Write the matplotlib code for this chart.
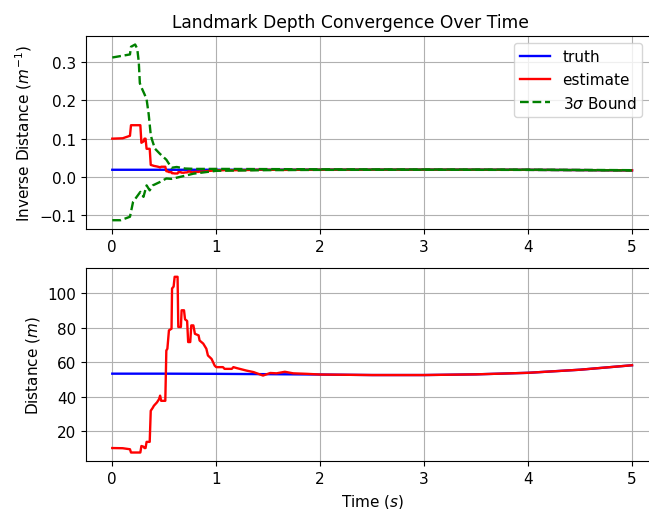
import numpy as np
import matplotlib
matplotlib.use("Agg")
import matplotlib.pyplot as plt

plt.rcParams['font.size'] = 11

# Truth distance (m)
t_truth = [0.0, 0.5, 1.0, 1.5, 2.0, 2.5, 3.0, 3.5, 4.0, 4.5, 5.0]
d_truth = [53.3, 53.3, 53.2, 53.0, 52.8, 52.5, 52.5, 52.9, 53.8, 55.6, 58.2]

# Estimated distance (m)
t_est = [0.00, 0.10, 0.17, 0.18, 0.27, 0.28, 0.30, 0.31, 0.32, 0.33, 0.36, 0.37,
         0.39, 0.40, 0.43, 0.45, 0.46, 0.47, 0.51, 0.52, 0.53, 0.545, 0.57, 0.575,
         0.59, 0.60, 0.628, 0.635, 0.66, 0.667, 0.69, 0.70, 0.72, 0.73, 0.75, 0.76,
         0.78, 0.795, 0.83, 0.84, 0.875, 0.905, 0.92, 0.955, 0.985, 1.00, 1.065,
         1.08, 1.15, 1.165, 1.20, 1.29, 1.36, 1.45, 1.52, 1.58, 1.66, 1.74, 1.87,
         2.00, 2.5, 3.0, 3.5, 4.0, 4.5, 5.0]
d_est = [10.0, 9.9, 9.3, 7.4, 7.4, 11.2, 10.8, 10.0, 10.0, 13.6, 13.6, 31.7,
         33.5, 34.6, 36.6, 38.5, 40.5, 37.5, 37.5, 66.8, 67.8, 78.5, 79.5, 102.9,
         104.0, 109.7, 109.7, 80.5, 80.5, 90.2, 90.2, 84.9, 84.0, 71.7, 71.7, 81.4,
         81.4, 76.5, 75.6, 72.6, 70.8, 67.8, 63.9, 61.9, 58.0, 57.1, 57.1,
         56.1, 56.1, 57.1, 56.5, 55.1, 54.2, 52.2, 53.7, 53.5, 54.4, 53.5, 53.2,
         52.8, 52.5, 52.5, 52.9, 53.8, 55.6, 58.2]

# 3-sigma bounds on inverse distance (1/m)
t_upper = [0.00, 0.17, 0.18, 0.22, 0.24, 0.255, 0.265, 0.28, 0.30, 0.31, 0.33,
           0.35, 0.37, 0.38, 0.41, 0.46, 0.52, 0.57, 0.62, 0.70, 0.80, 1.00,
           2.00, 3.00, 4.00, 5.00]
v_upper = [0.312, 0.320, 0.340, 0.346, 0.335, 0.300, 0.245, 0.234, 0.222, 0.216,
           0.203, 0.164, 0.110, 0.099, 0.074, 0.060, 0.045, 0.024, 0.026, 0.022,
           0.021, 0.021, 0.0200, 0.0196, 0.0191, 0.0177]
t_lower = [0.00, 0.08, 0.17, 0.20, 0.27, 0.30, 0.33, 0.36, 0.39, 0.46, 0.52,
           0.57, 0.65, 0.78, 0.91, 1.00, 1.50, 2.00, 3.00, 4.00, 5.00]
v_lower = [-0.113, -0.113, -0.104, -0.065, -0.039, -0.052, -0.022, -0.035,
           -0.022, -0.013, -0.004, -0.005, 0.000, 0.0085, 0.013, 0.016, 0.0178,
           0.0185, 0.0188, 0.0184, 0.0170]

inv_truth = 1.0 / np.array(d_truth)
inv_est = 1.0 / np.array(d_est)

fig = plt.figure(figsize=(6.49, 5.10), dpi=100)
W, H = 649.0, 510.0
left = 86.3 / W
width = (658.0 - 86.3) / W
ax1 = fig.add_axes([left, 1 - 230.0 / H, width, (230.0 - 36.7) / H])
ax2 = fig.add_axes([left, 1 - 462.3 / H, width, (462.3 - 269.0) / H])

lw = 1.7
ax1.plot(t_truth, inv_truth, color='b', lw=lw, label='truth')
ax1.plot(t_est, inv_est, color='r', lw=lw, label='estimate')
ax1.plot(t_upper, v_upper, color='g', ls='--', lw=lw, label=r'3$\sigma$ Bound')
ax1.plot(t_lower, v_lower, color='g', ls='--', lw=lw)
ax1.set_title('Landmark Depth Convergence Over Time', fontsize=12.3,
              x=(350.5 - 86.3) / (658.0 - 86.3))
ax1.set_ylabel(r'Inverse Distance ($m^{-1}$)')
ax1.set_xticks([0, 1, 2, 3, 4, 5])
ax1.set_yticks([-0.1, 0.0, 0.1, 0.2, 0.3])
ax1.grid(True)
ax1.legend(loc='upper right', bbox_to_anchor=(0.986, 1.0))

ax2.plot(t_truth, d_truth, color='b', lw=lw)
ax2.plot(t_est, d_est, color='r', lw=lw)
ax2.set_ylabel(r'Distance ($m$)')
ax2.set_xlabel(r'Time ($s$)')
ax2.set_xticks([0, 1, 2, 3, 4, 5])
ax2.set_yticks([20, 40, 60, 80, 100])
ax2.grid(True)

fig.savefig('out.png', dpi=100)
